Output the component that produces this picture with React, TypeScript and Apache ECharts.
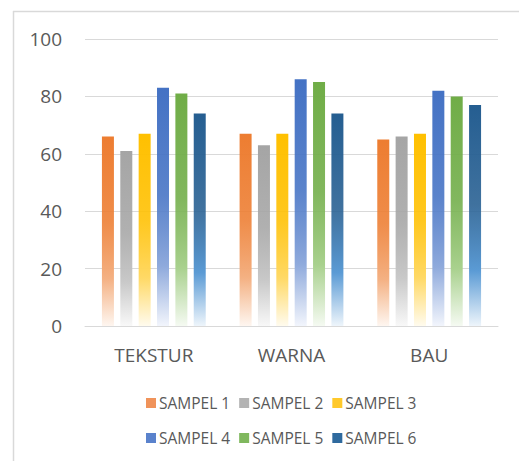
import React, { useEffect, useRef } from "react";
import * as echarts from "echarts";

const categories = ["TEKSTUR", "WARNA", "BAU"];
const seriesNames = ["SAMPEL 1", "SAMPEL 2", "SAMPEL 3", "SAMPEL 4", "SAMPEL 5", "SAMPEL 6"];
const sampel1 = [66, 67, 65];
const sampel2 = [61, 63, 66];
const sampel3 = [67, 67, 67];
const sampel4 = [83, 86, 82];
const sampel5 = [81, 85, 80];
const sampel6 = [74, 74, 77];
const seriesValues = [sampel1, sampel2, sampel3, sampel4, sampel5, sampel6];
const yTicks = { min: 0, max: 100, interval: 20 };

const baseColors = ["#ED7D31", "#A5A5A5", "#FFC000", "#4472C4", "#70AD47", "#255E91"];
const midColors = ["#F4B183", "#C9C9C9", "#FFD966", "#8FAADC", "#A9D18E", "#5B9BD5"];
const endColors = ["#FEF6F0", "#F8F8F8", "#FFFBEE", "#F2F5FC", "#F5FAF2", "#EEF5FB"];
const legendColors = ["#F0935A", "#B3B3B3", "#FFC92B", "#5A82CC", "#80B85E", "#2F6A9E"];

function grad(i: number) {
  return new echarts.graphic.LinearGradient(0, 0, 0, 1, [
    { offset: 0, color: baseColors[i] },
    { offset: 0.45, color: baseColors[i] + "E0" },
    { offset: 0.75, color: midColors[i] },
    { offset: 1, color: endColors[i] },
  ]);
}

export default function App() {
  const ref = useRef<HTMLDivElement>(null);
  useEffect(() => {
    if (!ref.current) return;
    const chart = echarts.init(ref.current, undefined, { renderer: "svg" });
    const font = "'Open Sans', sans-serif";
    const textColor = "#595959";
    const legendBase = {
      left: 141,
      itemWidth: 10,
      itemHeight: 10,
      itemGap: 9,
      icon: "rect",
      textStyle: { color: textColor, fontSize: 15.5, fontFamily: font, padding: [0, 0, 0, -2] },
    };
    const legendData = (from: number, to: number) =>
      seriesNames.slice(from, to).map((name, k) => ({
        name,
        itemStyle: { color: legendColors[from + k] },
      }));
    chart.setOption({
      animation: false,
      backgroundColor: "#ffffff",
      textStyle: { fontFamily: font },
      grid: { left: 85, right: 21, top: 39, bottom: 135, containLabel: false },
      legend: [
        { ...legendBase, data: legendData(0, 3), top: 390 },
        { ...legendBase, data: legendData(3, 6), top: 425 },
      ],
      xAxis: {
        type: "category",
        data: categories,
        axisLine: { lineStyle: { color: "#d9d9d9", width: 1 } },
        axisTick: { show: false },
        axisLabel: { color: textColor, fontSize: 19, margin: 19, fontFamily: font },
      },
      yAxis: {
        type: "value",
        min: yTicks.min,
        max: yTicks.max,
        interval: yTicks.interval,
        axisLine: { show: false },
        axisTick: { show: false },
        axisLabel: { color: textColor, fontSize: 19, margin: 23, fontFamily: font },
        splitLine: { lineStyle: { color: "#d9d9d9", width: 1 } },
      },
      series: seriesValues.map((vals, i) => ({
        name: seriesNames[i],
        type: "bar",
        data: vals,
        barWidth: 12,
        barGap: "53%",
        itemStyle: { color: grad(i) },
      })),
      graphic: [
        { type: "line", shape: { x1: 13.5, y1: 11, x2: 13.5, y2: 461 }, style: { stroke: "#d9d9d9", lineWidth: 1.5 } },
        { type: "line", shape: { x1: 13, y1: 11.5, x2: 519, y2: 11.5 }, style: { stroke: "#d9d9d9", lineWidth: 1.5 } },
      ],
    });
    return () => chart.dispose();
  }, []);
  return (
    <div
      ref={ref}
      style={{ position: "fixed", left: 0, top: 0, width: 519, height: 461 }}
    />
  );
}
